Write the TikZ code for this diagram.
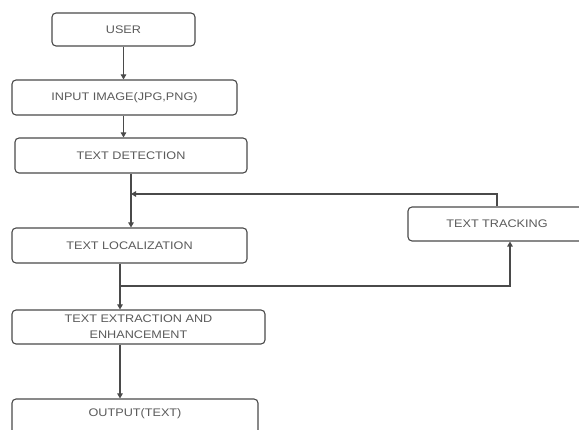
\documentclass[tikz,border=0pt]{standalone}
\usepackage{fontspec}
\setmainfont{Liberation Sans}[FakeStretch=1.15]
\usetikzlibrary{arrows.meta}
\definecolor{linec}{HTML}{4A4A4A}
\definecolor{textc}{HTML}{5A5A5A}
\tikzset{
  flowbox/.style={draw=linec, line width=1.1pt, rounded corners=4pt, fill=white,
    text=textc, font=\fontsize{11}{16}\selectfont, align=center, inner sep=0pt},
  flowarrow/.style={draw=linec, line width=1.1pt, -{Triangle[length=5pt,width=5.5pt]}},
  flowline/.style={draw=linec, line width=1.1pt},
}
\begin{document}
\begin{tikzpicture}[x=1pt,y=-1pt]
\useasboundingbox (0,0) rectangle (579,430);
\node[flowbox, minimum width=143pt, minimum height=33pt] (user) at (123.5,29.5) {USER};
\node[flowbox, minimum width=225pt, minimum height=35pt] (input) at (124.5,97.5) {INPUT IMAGE(JPG,PNG)};
\node[flowbox, minimum width=232pt, minimum height=35pt] (td) at (131,155.5) {TEXT DETECTION};
\node[flowbox, minimum width=235pt, minimum height=35pt] (loc) at (129.5,245.5) {TEXT LOCALIZATION};
\node[flowbox, minimum width=253pt, minimum height=34pt] (ext) at (138.5,327) {TEXT EXTRACTION AND\\ENHANCEMENT};
\node[flowbox, minimum width=246pt, minimum height=44pt] (out) at (135,421) {};
\node[text=textc, font=\fontsize{11}{16}\selectfont] (outtxt) at (135,414) {OUTPUT(TEXT)};
\node[flowbox, minimum width=184pt, minimum height=34pt] (track) at (500,224) {};
\node[text=textc, font=\fontsize{11}{16}\selectfont] (tracktxt) at (497,224) {TEXT TRACKING};
\coordinate (ux) at (123.5,0);
\coordinate (m1) at (131,194);
\coordinate (fbx) at (497,0);
\coordinate (b1) at (120,286);
\coordinate (bx) at (510,0);
\draw[flowarrow] (user.south -| ux) -- (input.north -| ux);
\draw[flowarrow] (input.south -| ux) -- (td.north -| ux);
\draw[flowarrow] (td.south -| m1) -- (loc.north -| m1);
\draw[flowarrow] (track.north -| fbx) |- (m1);
\draw[flowarrow] (loc.south -| b1) -- (ext.north -| b1);
\draw[flowarrow] (b1) -| (track.south -| bx);
\draw[flowarrow] (ext.south -| b1) -- (out.north -| b1);
\end{tikzpicture}
\end{document}
